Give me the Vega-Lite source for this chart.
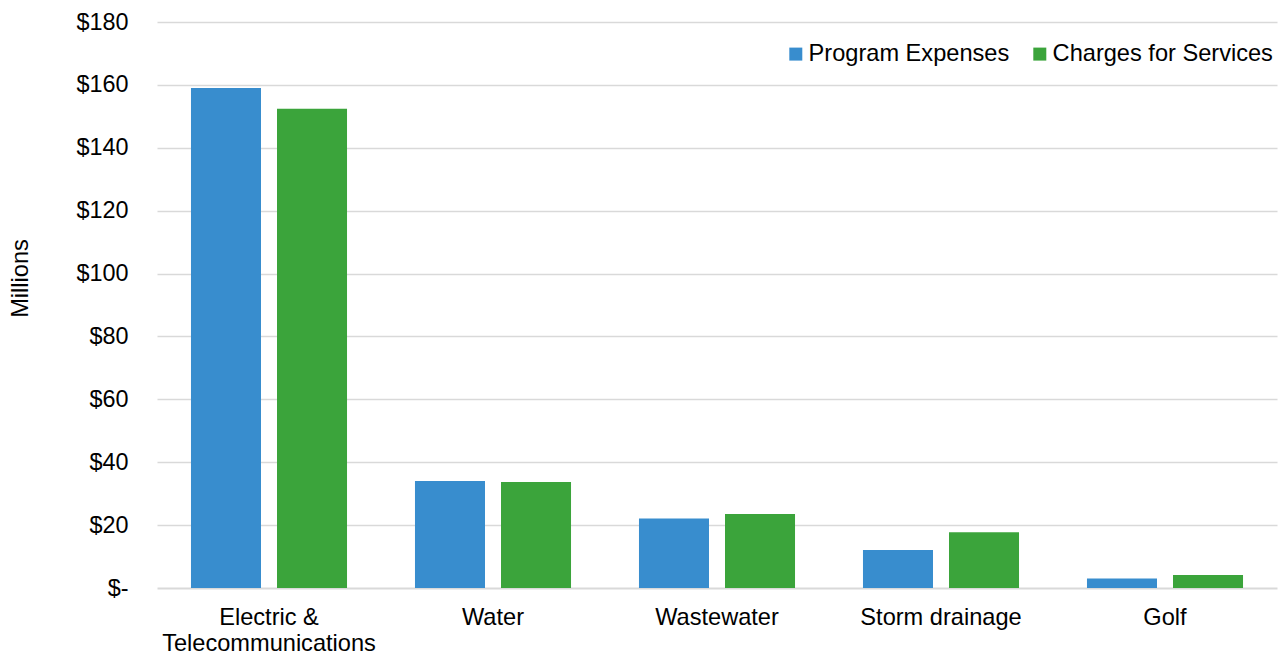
{
  "$schema": "https://vega.github.io/schema/vega-lite/v6.json",
  "autosize": {"type": "none"},
  "padding": {"left": 157, "top": 22, "right": 11, "bottom": 67},
  "width": 1120,
  "height": 566,
  "background": "white",
  "config": {
    "view": {"stroke": null},
    "font": "Liberation Sans",
    "axis": {"labelFont": "Liberation Sans", "titleFont": "Liberation Sans", "labelColor": "#000000", "titleColor": "#000000"},
    "legend": {"labelFont": "Liberation Sans", "labelColor": "#000000"}
  },
  "data": {
    "values": [
      {"category": "Electric & Telecommunications", "measure": "Program Expenses", "amount": 159.0},
      {"category": "Electric & Telecommunications", "measure": "Charges for Services", "amount": 152.4},
      {"category": "Water", "measure": "Program Expenses", "amount": 34.0},
      {"category": "Water", "measure": "Charges for Services", "amount": 33.7},
      {"category": "Wastewater", "measure": "Program Expenses", "amount": 22.1},
      {"category": "Wastewater", "measure": "Charges for Services", "amount": 23.5},
      {"category": "Storm drainage", "measure": "Program Expenses", "amount": 12.1},
      {"category": "Storm drainage", "measure": "Charges for Services", "amount": 17.7},
      {"category": "Golf", "measure": "Program Expenses", "amount": 3.0},
      {"category": "Golf", "measure": "Charges for Services", "amount": 4.1}
    ]
  },
  "mark": {"type": "bar", "cornerRadius": 0},
  "encoding": {
    "x": {
      "field": "category",
      "type": "nominal",
      "sort": null,
      "scale": {"paddingInner": 0, "paddingOuter": 0},
      "axis": {
        "title": null,
        "labelAngle": 0,
        "labelFontSize": 23.6,
        "labelPadding": 17,
        "labelLineHeight": 26,
        "labelLimit": 0,
        "ticks": false,
        "domain": false,
        "labelExpr": "datum.label == 'Electric & Telecommunications' ? ['Electric &', 'Telecommunications'] : datum.label"
      }
    },
    "xOffset": {
      "field": "measure",
      "type": "nominal",
      "sort": ["Program Expenses", "Charges for Services"],
      "scale": {"paddingInner": 0.186, "paddingOuter": 0.395}
    },
    "y": {
      "field": "amount",
      "type": "quantitative",
      "scale": {"domain": [0, 180], "nice": false},
      "axis": {
        "title": "Millions",
        "titleFontSize": 23.6,
        "titleFontWeight": "normal",
        "titleAngle": 270,
        "titleBaseline": "middle",
        "titleAlign": "center",
        "titleX": -137,
        "titleY": 256,
        "values": [0, 20, 40, 60, 80, 100, 120, 140, 160, 180],
        "labelExpr": "datum.value == 0 ? '$-' : '$' + datum.value",
        "labelFontSize": 23.4,
        "labelPadding": 29,
        "ticks": false,
        "domain": false,
        "grid": true,
        "gridColor": "#d9d9d9",
        "gridWidth": {"condition": {"test": "datum.value === 0", "value": 2}, "value": 1.3}
      }
    },
    "color": {
      "field": "measure",
      "type": "nominal",
      "scale": {"domain": ["Program Expenses", "Charges for Services"], "range": ["#388dce", "#3ba43b"]},
      "legend": {
        "title": null,
        "orient": "none",
        "direction": "horizontal",
        "legendX": 627,
        "legendY": 20,
        "padding": 0,
        "symbolType": "square",
        "symbolSize": 169,
        "symbolStrokeWidth": 0,
        "labelFontSize": 23.6,
        "labelOffset": 1,
        "labelLimit": 0,
        "columnPadding": 18
      }
    }
  }
}
